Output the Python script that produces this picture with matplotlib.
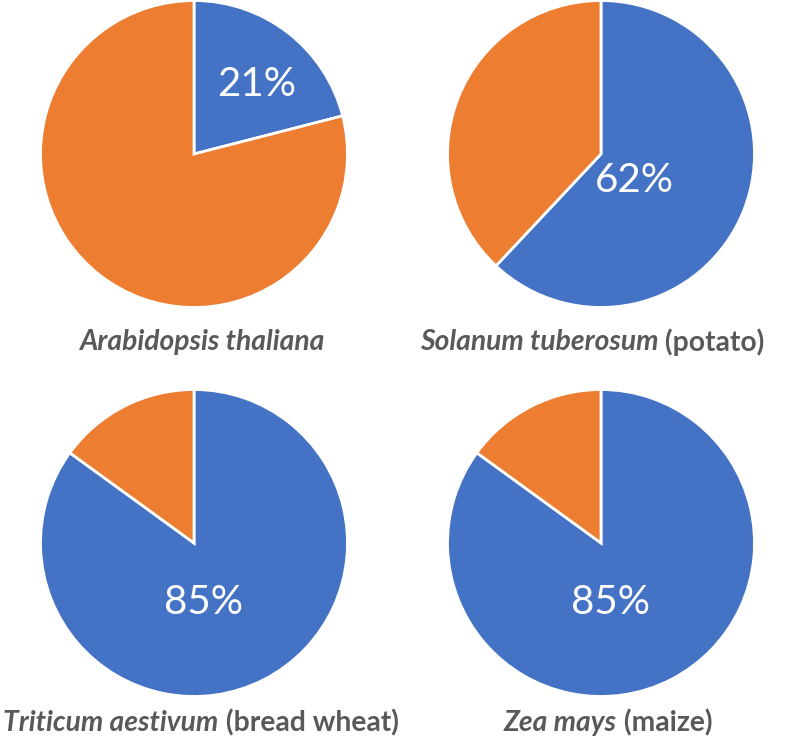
import matplotlib
matplotlib.use("Agg")
import matplotlib.pyplot as plt

# data
species = ["Arabidopsis thaliana", "Solanum tuberosum", "Triticum aestivum", "Zea mays"]
common = ["", "(potato)", "(bread wheat)", "(maize)"]
blue_share = [21, 62, 85, 85]

BLUE = "#4472C4"
ORANGE = "#ED7D31"
GRAY = "#595959"
FONT = "Lato"

W, H = 787, 741
fig = plt.figure(figsize=(W / 100, H / 100), dpi=100)

# pixel layout (top-down): pie centres, radius, label centres, pct text spots
centres = [(194, 154), (601, 154), (194, 543), (601, 543)]
radius = 155
label_pos = [(202, 342), (592, 342), (201, 723), (608, 723)]
pct_xy = [(0.405, 0.45), (0.22, -0.17), (0.06, -0.385), (0.06, -0.385)]

for i, share in enumerate(blue_share):
    cx, cy = centres[i]
    ax = fig.add_axes([(cx - radius) / W, 1 - (cy + radius) / H, 2 * radius / W, 2 * radius / H])
    ax.pie([share, 100 - share], colors=[BLUE, ORANGE], startangle=90, counterclock=False,
           radius=1, wedgeprops=dict(edgecolor="white", linewidth=2))
    ax.set_xlim(-1.01, 1.01)
    ax.set_ylim(-1.01, 1.01)
    ax.set_aspect("equal")
    ax.axis("off")
    ax.text(pct_xy[i][0], pct_xy[i][1], f"{share}%", color="white", fontsize=29,
            family=FONT, ha="center", va="center")

fig.canvas.draw()
renderer = fig.canvas.get_renderer()

for i, name in enumerate(species):
    lx, ly = label_pos[i]
    fx, fy = lx / W, 1 - ly / H
    t1 = fig.text(0, fy, name, fontsize=20.3, fontweight="bold", fontstyle="italic",
                  family=FONT, color=GRAY, va="center", ha="left")
    parts = [t1]
    if common[i]:
        t2 = fig.text(0, fy, " " + common[i], fontsize=20.3, fontweight="bold",
                      family=FONT, color=GRAY, va="center", ha="left")
        parts.append(t2)
    widths = [p.get_window_extent(renderer).width for p in parts]
    x = fx * W - sum(widths) / 2
    for p, w in zip(parts, widths):
        p.set_x(x / W)
        x += w

fig.savefig("out.png", dpi=100)
